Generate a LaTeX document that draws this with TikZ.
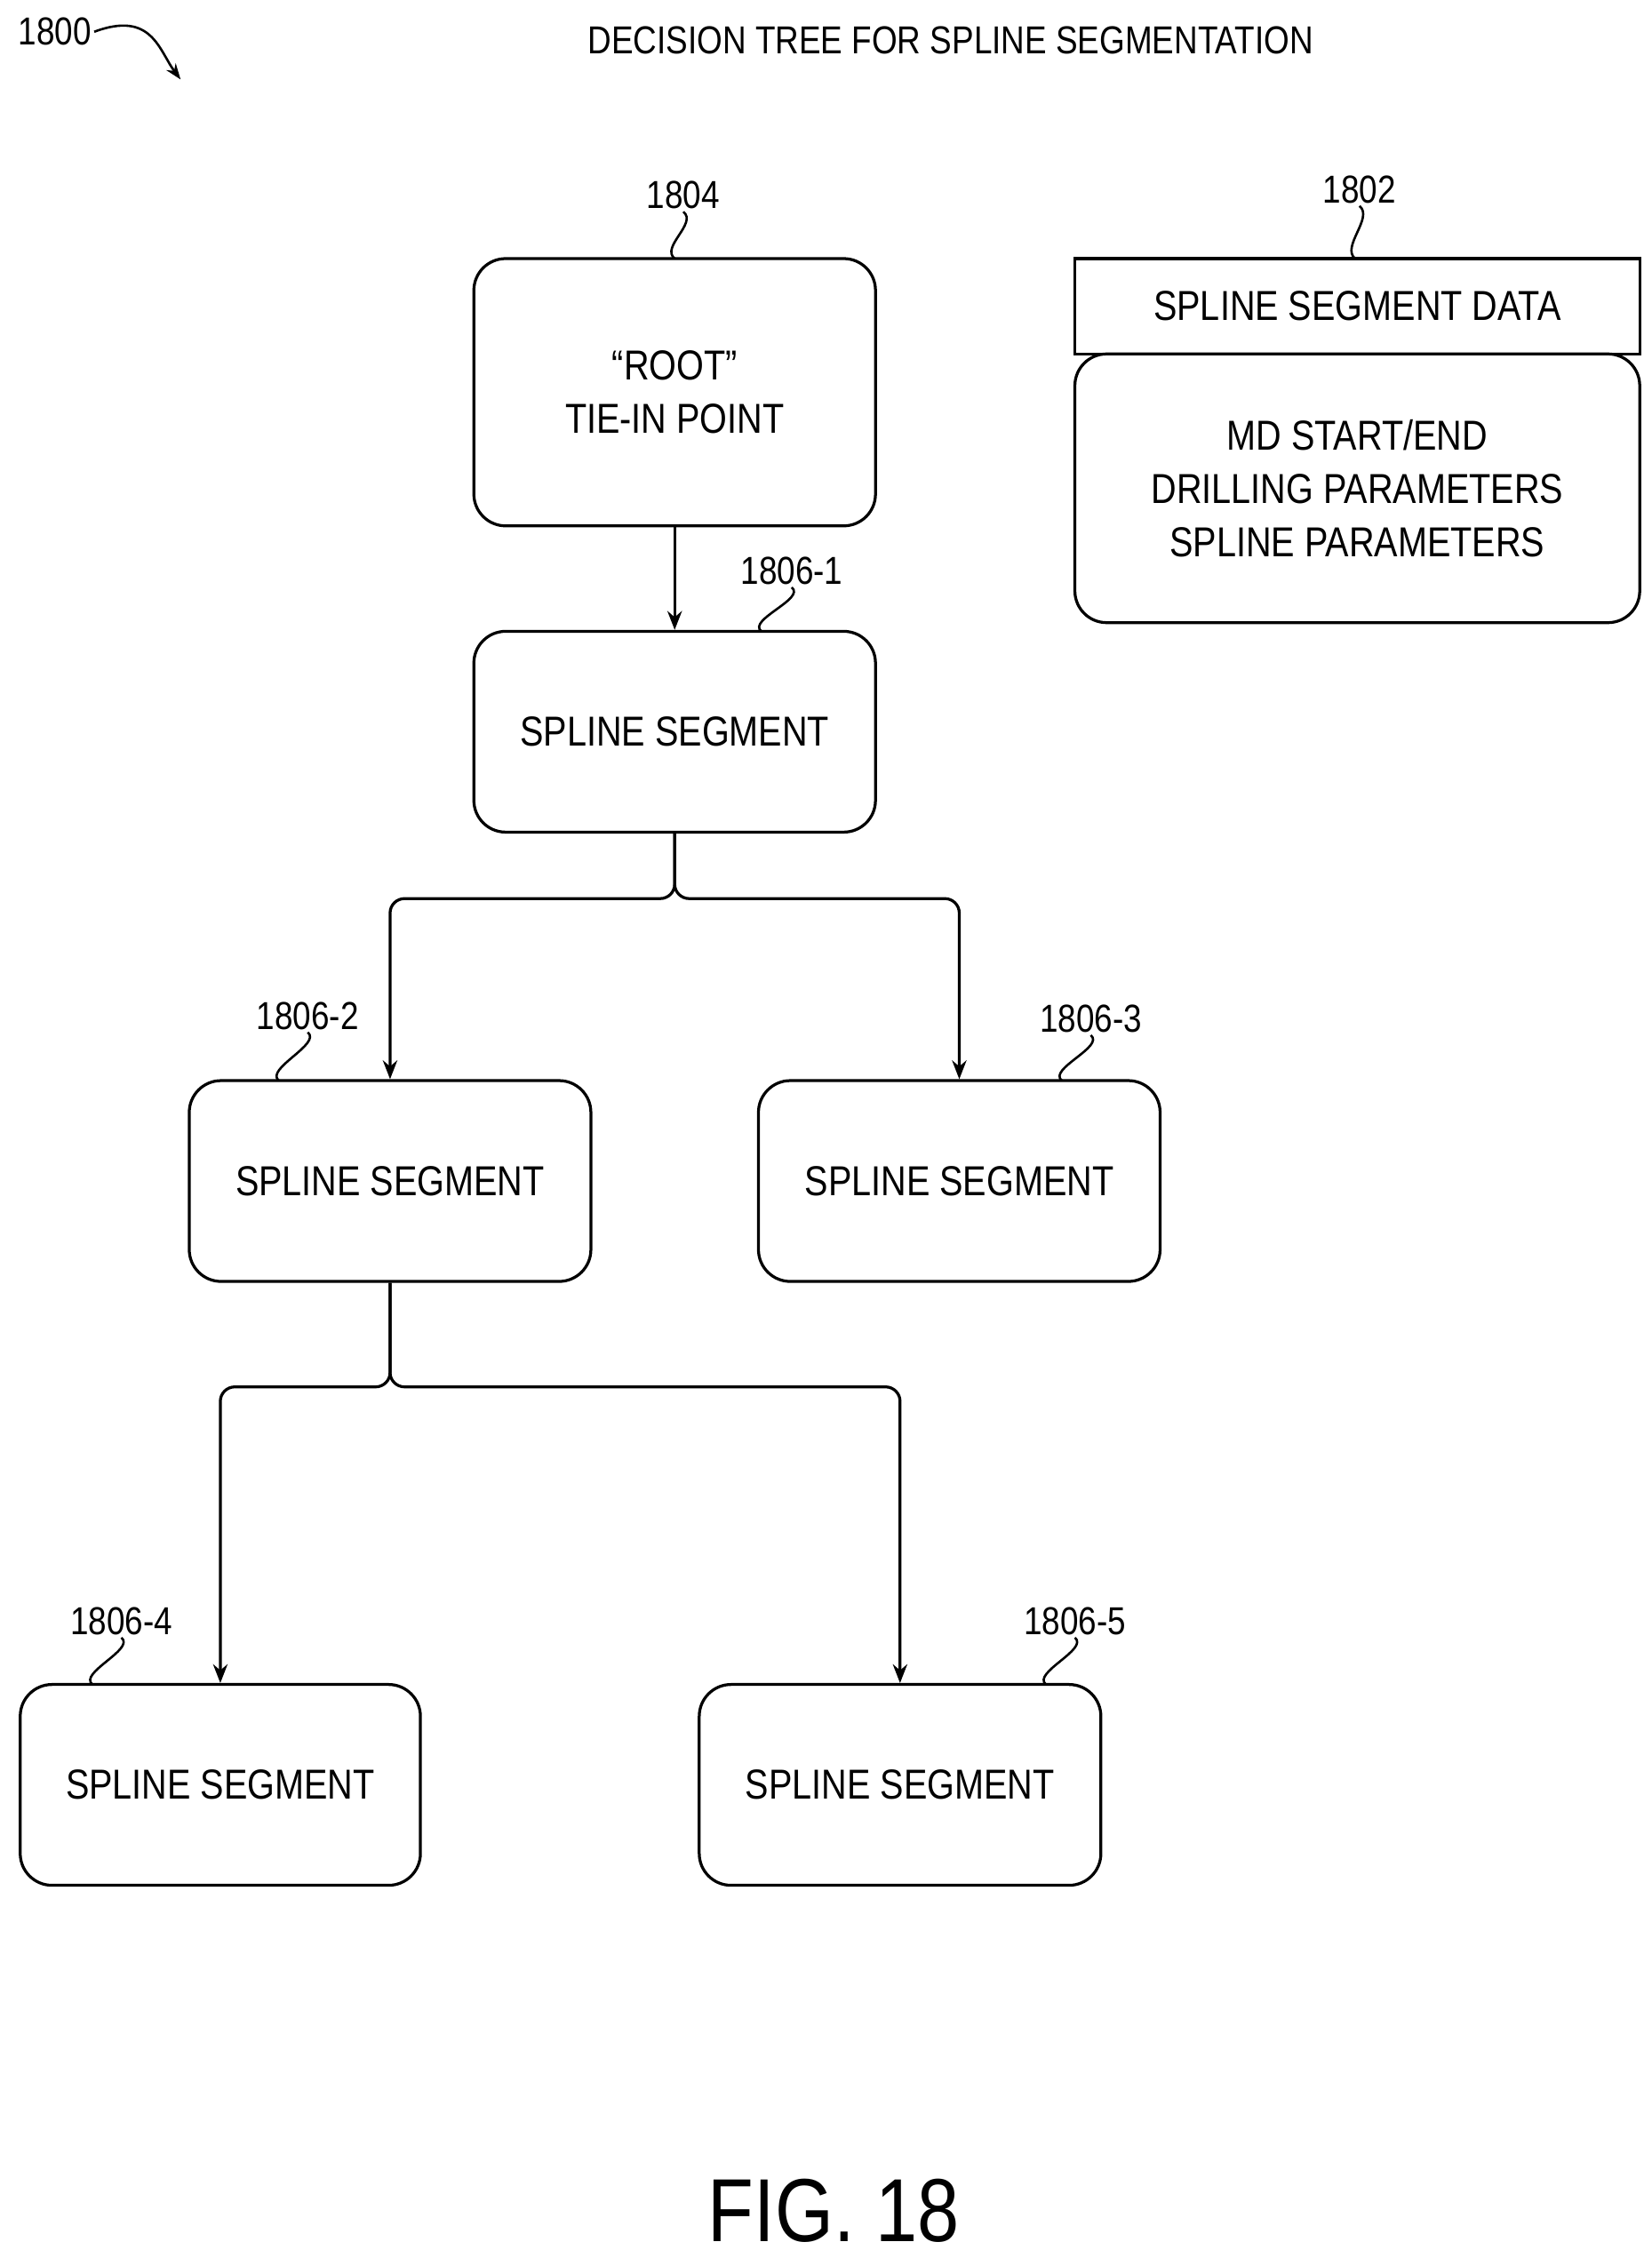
\documentclass[tikz,border=0pt]{standalone}
\usepackage{fontspec}
\setmainfont{Liberation Sans}[FakeStretch=0.84]
\usetikzlibrary{arrows.meta}
\begin{document}
\begin{tikzpicture}[x=1pt,y=-1pt,line width=2pt,
  box/.style={draw,rounded corners=22pt,align=center,font=\fontsize{29}{37}\selectfont,inner sep=0pt},
  lbl/.style={font=\fontsize{27}{32}\selectfont,inner sep=1pt},
  conn/.style={-{Stealth[length=13pt,width=10pt]},rounded corners=10pt},
  sq/.style={line width=1.6pt}]
\useasboundingbox (0,0) rectangle (1143,1563);
\node[font=\fontsize{27}{32}\selectfont] (title) at (658,28) {DECISION TREE FOR SPLINE SEGMENTATION};
\node[lbl] (n1800) at (38,22) {1800};
\coordinate (a1800) at (125,55);
\draw[sq,-{Stealth[length=11pt,width=8pt]}] (n1800.east) .. controls +(40,-15) and +(-15,-20) .. (a1800);
\node[box,minimum width=278pt,minimum height=185pt] (root) at (467,271.5) {``ROOT''\\TIE-IN POINT};
\node[box,minimum width=278pt,minimum height=139pt] (s1) at (467,506.5) {SPLINE SEGMENT};
\node[box,minimum width=278pt,minimum height=139pt] (s2) at (270,817.5) {SPLINE SEGMENT};
\node[box,minimum width=278pt,minimum height=139pt] (s3) at (664,817.5) {SPLINE SEGMENT};
\node[box,minimum width=277pt,minimum height=139pt] (s4) at (152.5,1235.5) {SPLINE SEGMENT};
\node[box,minimum width=278pt,minimum height=139pt] (s5) at (623,1235.5) {SPLINE SEGMENT};
\node[draw,minimum width=391pt,minimum height=66pt,inner sep=0pt,font=\fontsize{29}{37}\selectfont] (hdr) at (939.5,212) {SPLINE SEGMENT DATA};
\node[box,minimum width=391pt,minimum height=186pt] (data) at (939.5,338) {MD START/END\\DRILLING PARAMETERS\\SPLINE PARAMETERS};
% connectors
\draw[conn] (root.south) -- (s1.north);
\draw[conn] (s1.south) -- (467,622) -| (s2.north);
\draw[conn] (s1.south) -- (467,622) -| (s3.north);
\draw[conn] (s2.south) -- (270,960) -| (s4.north);
\draw[conn] (s2.south) -- (270,960) -| (s5.north);
% labels
\node[lbl] (l1804) at (473,135) {1804};
\node[lbl] (l1802) at (941,131) {1802};
\node[lbl] (l1) at (548,395) {1806-1};
\node[lbl] (l2) at (213,703) {1806-2};
\node[lbl] (l3) at (755,705) {1806-3};
\node[lbl] (l4) at (84,1122) {1806-4};
\node[lbl] (l5) at (744,1122) {1806-5};
\coordinate (p1804) at (467,179);
\coordinate (p1802) at (938,179);
\coordinate (p1) at (527,437);
\coordinate (p2) at (193,748);
\coordinate (p3) at (735,748);
\coordinate (p4) at (64,1166);
\coordinate (p5) at (724,1166);
\foreach \l/\p in {l1804/p1804,l1802/p1802,l1/p1,l2/p2,l3/p3,l4/p4,l5/p5}
  \draw[sq] (\l.south) .. controls +(10,8) and +(-10,-8) .. (\p);
\node[font=\fontsize{62}{70}\selectfont] (fig) at (577,1530) {FIG. 18};
\end{tikzpicture}
\end{document}
